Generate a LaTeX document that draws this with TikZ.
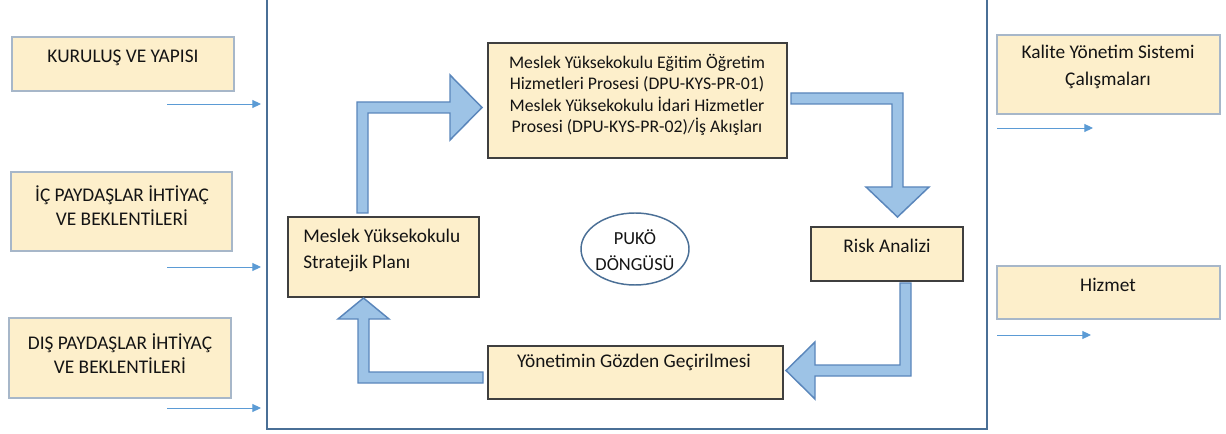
\documentclass[tikz,border=0pt]{standalone}
\usepackage{fontspec}
\setmainfont{Carlito}
\usetikzlibrary{arrows.meta,shapes.geometric,fit}
\definecolor{boxfill}{HTML}{FDEFCB}
\definecolor{inborder}{HTML}{3F3F3F}
\definecolor{outborder}{HTML}{A7B7C9}
\definecolor{framecol}{HTML}{4A6F96}
\definecolor{arrfill}{HTML}{9DC3E6}
\definecolor{arrdraw}{HTML}{5A86BB}
\definecolor{thinarr}{HTML}{5B9BD5}
\definecolor{txtcol}{HTML}{141414}
\begin{document}
\begin{tikzpicture}[x=0.75pt,y=-0.75pt,
  inbox/.style={draw=inborder,fill=boxfill,line width=1pt,inner sep=0pt},
  outbox/.style={draw=outborder,fill=boxfill,line width=1pt,inner sep=0pt},
  txt/.style={inner sep=0pt,align=center,text=txtcol,font=\fontsize{14.5}{18}\selectfont},
  barrow/.style={draw=arrdraw,fill=arrfill,line width=1.1pt,line join=miter},
  tharrow/.style={draw=thinarr,line width=0.7pt,-{Triangle[length=6.5pt,width=6pt]}},
  framestyle/.style={draw=framecol,line width=1.4pt,inner sep=0pt}]
\useasboundingbox (0,0) rectangle (1226,434);
\fill[white] (0,0) rectangle (1226,434);

% outer frame
\node[framestyle,fit={(267,-20) (987,429)}] (frame) {};

% left input boxes
\node[outbox,fit={(12,37) (234,91)}] (kur) {};
\node[txt] (kurt) at (123,58) {KURULUŞ VE YAPISI};
\node[outbox,fit={(11,172) (232,251)}] (ic) {};
\node[txt] (ict) at (122,206) {İÇ PAYDAŞLAR İHTİYAÇ\\VE BEKLENTİLERİ};
\node[outbox,fit={(9,318) (231,398)}] (dis) {};
\node[txt] (dist) at (120,354) {DIŞ PAYDAŞLAR İHTİYAÇ\\VE BEKLENTİLERİ};

% right output boxes
\node[outbox,fit={(997,35) (1220,114)}] (kal) {};
\node[txt,font=\fontsize{14.5}{20}\selectfont] (kalt) at (1108,67) {Kalite Yönetim Sistemi\\Çalışmaları};
\node[outbox,fit={(997,266) (1220,319)}] (hiz) {};
\node[txt] (hizt) at (1108,285) {Hizmet};

% thin arrows
\coordinate (i1s) at (167,104); \coordinate (i1e) at (261,104);
\coordinate (i2s) at (167,267); \coordinate (i2e) at (261,267);
\coordinate (i3s) at (167,408); \coordinate (i3e) at (261,408);
\coordinate (o1s) at (997,128); \coordinate (o1e) at (1093,128);
\coordinate (o2s) at (997,335); \coordinate (o2e) at (1091,335);
\draw[tharrow] (i1s) -- (i1e);
\draw[tharrow] (i2s) -- (i2e);
\draw[tharrow] (i3s) -- (i3e);
\draw[tharrow] (o1s) -- (o1e);
\draw[tharrow] (o2s) -- (o2e);

% inner process boxes
\node[inbox,fit={(488,43) (787,158)}] (proc) {};
\node[txt,font=\fontsize{13.3}{16}\selectfont] (proct) at (637,95)
  {Meslek Yüksekokulu Eğitim Öğretim\\Hizmetleri Prosesi (DPU-KYS-PR-01)\\Meslek Yüksekokulu İdari Hizmetler\\Prosesi (DPU-KYS-PR-02)/İş Akışları};
\node[inbox,fit={(811,227) (963,281)}] (risk) {};
\node[txt] (riskt) at (887,246) {Risk Analizi};
\node[inbox,fit={(288,217) (479,297)}] (strat) {};
\node[txt,align=left,anchor=west,font=\fontsize{14.5}{19.5}\selectfont] (stratt) at (303,250) {Meslek Yüksekokulu\\Stratejik Planı};
\node[inbox,fit={(488,346) (783,399)}] (yon) {};
\node[txt] (yont) at (634,362) {Yönetimin Gözden Geçirilmesi};

% PUKO ellipse
\node[ellipse,draw=framecol,line width=1.1pt,minimum width=81pt,minimum height=54pt,inner sep=0pt] (puko) at (635,249) {};
\node[txt,font=\fontsize{13.8}{19.5}\selectfont] (pukot) at (635,250) {PUKÖ\\DÖNGÜSÜ};

% block arrows
\draw[barrow] (357,213) -- (357,102) -- (450,102) -- (450,75) -- (482,107.5) -- (450,140) -- (450,113) -- (368,113) -- (368,213) -- cycle;
\draw[barrow] (791,93) -- (903,93) -- (903,187) -- (929,187) -- (897.5,217) -- (866,187) -- (892,187) -- (892,104) -- (791,104) -- cycle;
\draw[barrow] (900,283) -- (911,283) -- (911,376) -- (815,376) -- (815,399) -- (786,370.5) -- (815,342) -- (815,365) -- (900,365) -- cycle;
\draw[barrow] (483,383) -- (358,383) -- (358,319) -- (338,319) -- (363.5,298) -- (389,319) -- (369,319) -- (369,372) -- (483,372) -- cycle;
\end{tikzpicture}
\end{document}
